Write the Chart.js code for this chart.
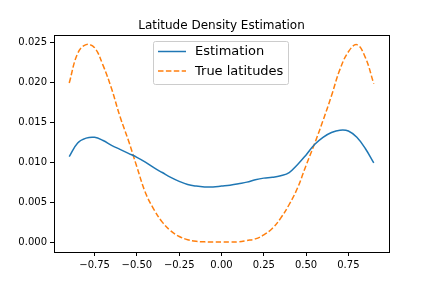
<!DOCTYPE html>
<html>
<head>
<meta charset="utf-8">
<script src="https://cdn.jsdelivr.net/npm/chart.js@4/dist/chart.umd.min.js"></script>
<style>
  html, body { margin: 0; padding: 0; background: #fff; }
</style>
</head>
<body>
<canvas id="g1" width="432" height="288"></canvas>
<script>
// latitude grid (sin of latitude)
var latitudes = [-0.90, -0.85, -0.80, -0.75, -0.70, -0.65, -0.60, -0.55, -0.50, -0.45,
                 -0.40, -0.35, -0.30, -0.25, -0.20, -0.15, -0.10, -0.05, 0.00, 0.05,
                 0.10, 0.15, 0.20, 0.25, 0.30, 0.35, 0.40, 0.45, 0.50, 0.55,
                 0.60, 0.65, 0.70, 0.75, 0.80, 0.85, 0.90];

var estimation = [0.0107, 0.0124, 0.0130, 0.0131, 0.0127, 0.0121, 0.0116, 0.0111, 0.0106, 0.0100,
                  0.0093, 0.0087, 0.0081, 0.0076, 0.0072, 0.0070, 0.0069, 0.0069, 0.0070, 0.0071,
                  0.0073, 0.0075, 0.0078, 0.0080, 0.0081, 0.0083, 0.0087, 0.0097, 0.0109, 0.0122,
                  0.0131, 0.0137, 0.0140, 0.0139, 0.0131, 0.0117, 0.0099];

var trueLat = [0.0199, 0.0236, 0.0247, 0.0243, 0.0221, 0.0192, 0.0157, 0.0127, 0.0094, 0.0062,
               0.0041, 0.0025, 0.0014, 0.0007, 0.0003, 0.0001, 0.00003, 0.0, 0.0, 0.0,
               0.00003, 0.0002, 0.0004, 0.0009, 0.0017, 0.0030, 0.0047, 0.0068, 0.0096, 0.0123,
               0.0152, 0.0183, 0.0216, 0.0238, 0.0247, 0.0231, 0.0198];

var xTicks = [-0.75, -0.50, -0.25, 0.00, 0.25, 0.50, 0.75];
var yTicks = [0.000, 0.005, 0.010, 0.015, 0.020, 0.025];

var seriesNames = ['Estimation', 'True latitudes'];
var chartTitle = 'Latitude Density Estimation';

function toPoints(xs, ys) {
    return xs.map(function(x, i) { return {x: x, y: ys[i]}; });
}

function minus(s) { return s.replace('-', '\u2212'); }

var FONT = "'DejaVu Sans', sans-serif";

// full black frame round the plot + title centred over the axes, like matplotlib
var framePlugin = {
    id: 'frame',
    afterDraw: function(chart) {
        var a = chart.chartArea, c = chart.ctx;
        c.save();
        c.strokeStyle = '#000';
        c.lineWidth = 1;
        c.strokeRect(Math.round(a.left) + 0.5, Math.round(a.top) + 0.5,
                     Math.round(a.right - a.left), Math.round(a.bottom - a.top));
        c.fillStyle = '#000';
        c.font = '12px ' + FONT;
        c.textAlign = 'center';
        c.textBaseline = 'alphabetic';
        c.fillText(chartTitle, (a.left + a.right) / 2, a.top - 6);
        c.restore();
    }
};

// legend drawn by hand, boxed like matplotlib
var legendPlugin = {
    id: 'mplLegend',
    afterDraw: function(chart) {
        var c = chart.ctx;
        var x0 = 153.5, y0 = 41.5, w = 135, h = 43;
        c.save();
        c.fillStyle = 'rgba(255,255,255,0.8)';
        c.strokeStyle = '#cccccc';
        c.lineWidth = 1;
        c.beginPath();
        c.roundRect(x0, y0, w, h, 2);
        c.fill();
        c.stroke();
        var rows = [51.5, 71];
        chart.data.datasets.forEach(function(ds, i) {
            c.strokeStyle = ds.borderColor;
            c.lineWidth = 1.5;
            c.setLineDash(ds.borderDash || []);
            c.beginPath();
            c.moveTo(158, rows[i]);
            c.lineTo(186, rows[i]);
            c.stroke();
            c.setLineDash([]);
            c.fillStyle = '#000';
            c.font = '13px ' + FONT;
            c.textBaseline = 'middle';
            c.textAlign = 'left';
            c.fillText(ds.label, 195, rows[i] + 0.5);
        });
        c.restore();
    }
};

var ctx_1 = document.getElementById('g1');

var myChart = new Chart(ctx_1, {
    type: 'scatter',
    data: {
        datasets: [{
            label: seriesNames[0],
            data: toPoints(latitudes, estimation),
            borderColor: '#1f77b4',
            borderWidth: 1.5,
            showLine: true,
            pointRadius: 0,
            tension: 0.4
        }, {
            label: seriesNames[1],
            data: toPoints(latitudes, trueLat),
            borderColor: '#ff7f0e',
            borderWidth: 1.5,
            borderDash: [5.5, 2.4],
            showLine: true,
            pointRadius: 0,
            tension: 0.4
        }]
    },
    options: {
        responsive: false,
        animation: false,
        devicePixelRatio: 1,
        layout: { padding: { left: 0, right: 43, top: 35, bottom: 0 } },
        plugins: {
            legend: { display: false },
            tooltip: { enabled: false },
            title: { display: false }
        },
        scales: {
            x: {
                type: 'linear',
                min: -0.99,
                max: 0.99,
                afterBuildTicks: function(s) { s.ticks = xTicks.map(function(v) { return {value: v}; }); },
                afterFit: function(s) { s.height = 36; },
                grid: { drawOnChartArea: false, color: '#000', tickLength: 4, tickWidth: 1 },
                border: { color: '#000', width: 1 },
                ticks: {
                    color: '#000',
                    padding: 3,
                    maxRotation: 0,
                    autoSkip: false,
                    font: { family: FONT, size: 10 },
                    callback: function(v) { return minus(v.toFixed(2)); }
                }
            },
            y: {
                type: 'linear',
                min: -0.00124,
                max: 0.0259,
                afterBuildTicks: function(s) { s.ticks = yTicks.map(function(v) { return {value: v}; }); },
                afterFit: function(s) { s.width = 54; },
                grid: { drawOnChartArea: false, color: '#000', tickLength: 4, tickWidth: 1 },
                border: { color: '#000', width: 1 },
                ticks: {
                    color: '#000',
                    padding: 3,
                    autoSkip: false,
                    font: { family: FONT, size: 10 },
                    callback: function(v) { return v.toFixed(3); }
                }
            }
        }
    },
    plugins: [framePlugin, legendPlugin]
});
</script>
</body>
</html>
